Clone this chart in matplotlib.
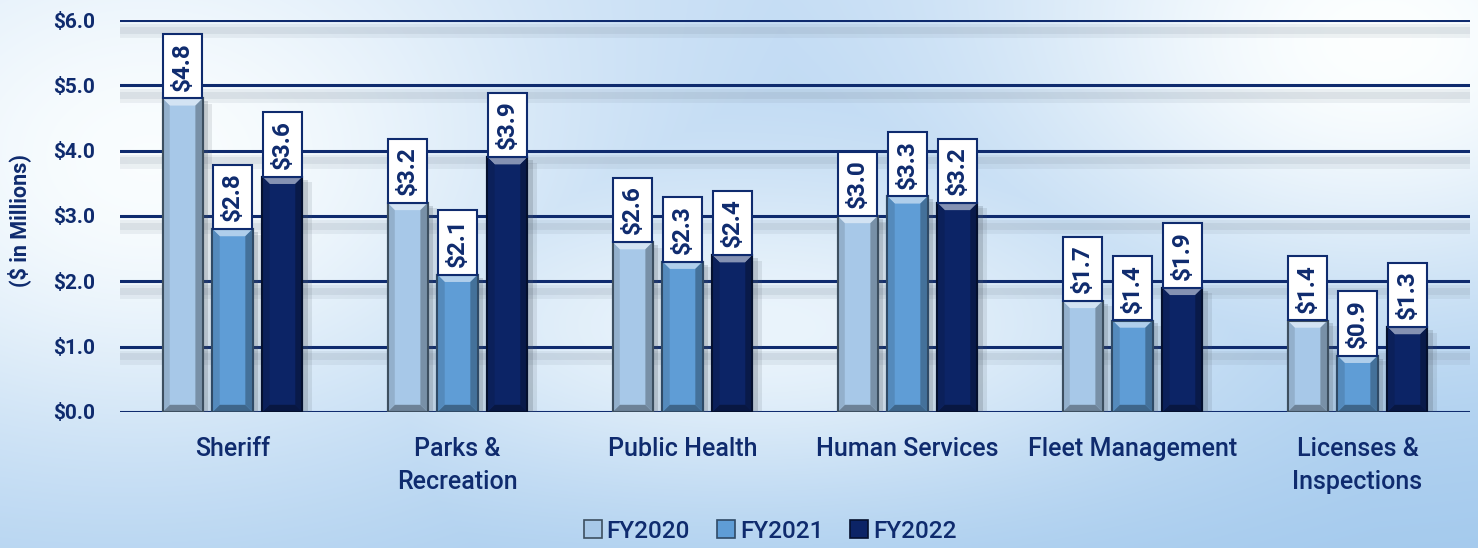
import numpy as np
import matplotlib
matplotlib.use("Agg")
import matplotlib.pyplot as plt
from matplotlib.patches import Polygon
import matplotlib.patheffects as pe

categories = ["Sheriff", "Parks &\nRecreation", "Public Health", "Human Services",
              "Fleet Management", "Licenses &\nInspections"]
fy2020 = [4.8, 3.2, 2.6, 3.0, 1.7, 1.4]
fy2021 = [2.8, 2.1, 2.3, 3.3, 1.4, 0.86]
fy2022 = [3.6, 3.9, 2.4, 3.2, 1.9, 1.3]
series_names = ["FY2020", "FY2021", "FY2022"]
yticks = [0, 1, 2, 3, 4, 5, 6]

colors = ["#a7c8e8", "#5f9dd6", "#0c2466"]
edge_colors = ["#3d4f60", "#2f4a66", "#04102e"]
navy = "#0f2b6e"
font = "Roboto"

fig = plt.figure(figsize=(14.78, 5.48), dpi=100)

# background gradient
bg = fig.add_axes([0, 0, 1, 1], zorder=-10)
yy, xx = np.mgrid[0:548, 0:1478].astype(float)
def blob(cx, cy, sx, sy):
    return np.exp(-(((xx - cx) / sx) ** 2 + ((yy - cy) / sy) ** 2))
t = np.maximum.reduce([0.95 * blob(150, 160, 420, 300),
                       1.0 * blob(1380, 40, 380, 260),
                       0.75 * blob(760, 330, 450, 170)])
blue_top = np.array([0.78, 0.87, 0.96])
blue_bot = np.array([0.64, 0.79, 0.93])
v = (yy / 548.0)[..., None] * 0.7 + (xx / 1478.0)[..., None] * 0.3
base = blue_top * (1 - v) + blue_bot * v
white = np.array([0.99, 1.0, 1.0])
img = base * (1 - t[..., None]) + white * t[..., None]
bg.imshow(np.clip(img, 0, 1), aspect="auto", extent=[0, 1, 0, 1])
bg.axis("off")

ax = fig.add_axes([0.0812, 0.2482, 0.9134, 0.7153])
ax.patch.set_alpha(0)

x = np.arange(len(categories))
w = 0.178
off = 0.222
all_series = [fy2020, fy2021, fy2022]

for yv in yticks:
    ax.axhline(yv, color=navy, lw=2.2, zorder=1,
               path_effects=[pe.SimpleLineShadow(offset=(0, -8), shadow_color="#6f7f90", alpha=0.10, linewidth=10),
                             pe.SimpleLineShadow(offset=(0, -7), shadow_color="#6f7f90", alpha=0.12, linewidth=5),
                             pe.Normal()])

def lighten(c, f):
    rgb = np.array(matplotlib.colors.to_rgb(c))
    return tuple(rgb + (1 - rgb) * f)

def darken(c, f):
    rgb = np.array(matplotlib.colors.to_rgb(c))
    return tuple(rgb * (1 - f))

for i, (vals, col, ec) in enumerate(zip(all_series, colors, edge_colors)):
    xs = x + (i - 1) * off
    bars = ax.bar(xs, vals, width=w, color=col, edgecolor=ec, linewidth=1.5, zorder=3,
                  path_effects=[pe.SimplePatchShadow(offset=(7, -4), shadow_rgbFace="#4a5560", alpha=0.12),
                                pe.SimplePatchShadow(offset=(4, -2), shadow_rgbFace="#4a5560", alpha=0.2),
                                pe.Normal()])
    for b, v in zip(bars, vals):
        x0 = b.get_x()
        x1 = x0 + b.get_width()
        ins = b.get_width() * 0.18
        dy = 0.11
        ax.add_patch(Polygon([(x0, v), (x1, v), (x1 - ins, v - dy), (x0 + ins, v - dy)],
                             closed=True, color=lighten(col, 0.5), zorder=4, lw=0))
        ax.add_patch(Polygon([(x0, 0), (x1, 0), (x1 - ins, dy), (x0 + ins, dy)],
                             closed=True, color=darken(col, 0.35), zorder=4, lw=0))
        ax.add_patch(Polygon([(x0, 0), (x0 + ins, dy), (x0 + ins, v - dy), (x0, v)],
                             closed=True, color=darken(col, 0.12), zorder=4, lw=0))
        ax.add_patch(Polygon([(x1, 0), (x1 - ins, dy), (x1 - ins, v - dy), (x1, v)],
                             closed=True, color=darken(col, 0.28), zorder=4, lw=0))
        ax.add_patch(Polygon([(x0, 0), (x1, 0), (x1, v), (x0, v)], closed=True,
                             fill=False, edgecolor=ec, lw=1.5, zorder=5))
        lbl = "$%.1f" % v
        ax.text(b.get_x() + b.get_width() / 2, v + 0.12, lbl.replace("$", r"\$"), rotation=90,
                ha="center", va="bottom", fontsize=17.5, fontweight="bold", color=navy,
                family=font, zorder=6,
                bbox=dict(boxstyle="square,pad=0.32", facecolor="white", edgecolor=navy, lw=1.5))

ax.set_xlim(-0.5, len(categories) - 0.5)
ax.set_ylim(0, 6)
ax.set_yticks(yticks)
ax.set_yticklabels([r"\$%.1f" % t for t in yticks], fontsize=15, fontweight="bold",
                   color=navy, family=font)
ax.set_xticks(x)
ax.set_xticklabels(categories, fontsize=18, color=navy, family=font, fontweight="medium",
                   linespacing=1.45)
ax.tick_params(axis="both", length=0)
ax.tick_params(axis="y", pad=18)
ax.tick_params(axis="x", pad=18)
for s in ax.spines.values():
    s.set_visible(False)

fig.text(0.013, 0.598, "($ in Millions)", rotation=90, ha="center", va="center",
         fontsize=15.5, fontweight="bold", color=navy, family=font)

handles = [matplotlib.patches.Patch(facecolor=c, edgecolor=e, lw=1.2) for c, e in zip(colors, edge_colors)]
leg = fig.legend(handles, series_names, loc="lower center", bbox_to_anchor=(0.521, -0.03), ncol=3,
                 frameon=False, handlelength=0.75, handleheight=0.75, handletextpad=0.2,
                 columnspacing=1.1, prop=dict(family=font, size=17.5, weight="medium"))
for t_ in leg.get_texts():
    t_.set_color(navy)

fig.savefig("out.png", dpi=100)
